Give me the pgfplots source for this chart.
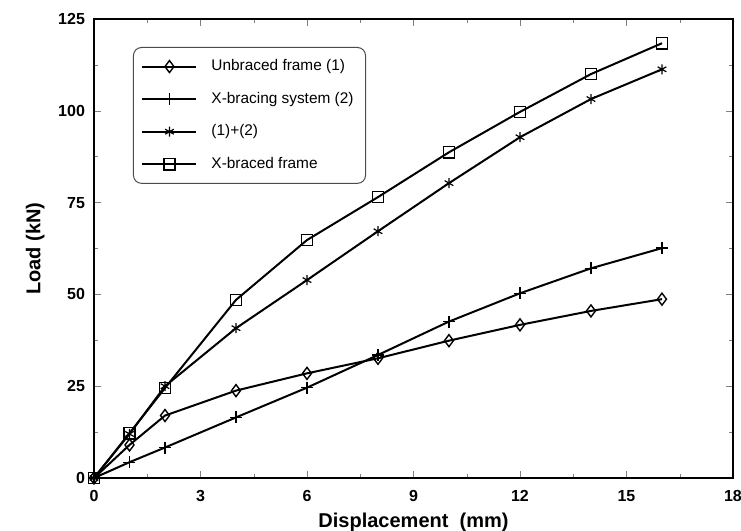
\documentclass[border=0pt]{standalone}
\usepackage{pgfplots}
\pgfplotsset{compat=1.18}
\usepackage{fontspec}
\setmainfont{Liberation Sans}
\begin{document}
\begin{tikzpicture}
\useasboundingbox (-47pt,-26.5pt) rectangle (323.5pt,239pt);
\begin{axis}[
  scale only axis,
  width=319.5pt, height=229.5pt,
  xmin=0, xmax=18, ymin=0, ymax=125,
  xtick={0,3,...,18}, ytick={0,25,...,125},
  minor x tick num=1, minor y tick num=1,
  tick align=inside,
  major tick length=3.5pt, minor tick length=2.2pt,
  axis line style={line width=0.8pt},
  /pgf/number format/assume math mode=true,
  tick label style={font=\fontsize{8}{9}\selectfont\bfseries},
  xticklabel style={yshift=-2.5pt},
  yticklabel style={xshift=-1pt},
  xlabel={Displacement\ \ (mm)},
  ylabel={Load (kN)},
  xlabel style={font=\fontsize{10}{11}\selectfont\bfseries, yshift=1pt},
  ylabel style={font=\fontsize{10}{11}\selectfont\bfseries, yshift=0pt},
  legend cell align=left,
  legend style={at={(axis description cs:0.061,0.939)}, anchor=north west,
    rounded corners=4pt, draw=black!70, line width=0.5pt,
    font=\fontsize{7.7}{8.5}\selectfont, row sep=5.2pt, inner xsep=4pt, inner ysep=4pt,
    /tikz/every odd column/.append style={column sep=5pt},
    /tikz/every even column/.append style={column sep=3pt}},
  legend image code/.code={\draw[mark repeat=2,mark phase=2] plot coordinates {(0pt,0pt)(13.5pt,0pt)(27pt,0pt)};},
]
\addplot[black, line width=1pt, mark=diamond, mark size=3pt, mark options={solid, line width=0.7pt, fill=white}] coordinates {
(0,0) (1,9.0) (2,17.0) (4,23.8) (6,28.5) (8,32.6) (10,37.4) (12,41.7) (14,45.5) (16,48.7)};
\addlegendentry{Unbraced frame (1)}
\addplot[black, line width=1pt, mark=+, mark size=3pt, mark options={solid, line width=0.7pt}] coordinates {
(0,0) (1,4.3) (2,8.3) (4,16.5) (6,24.6) (8,33.5) (10,42.6) (12,50.3) (14,57.1) (16,62.6)};
\addlegendentry{X-bracing system (2)}
\addplot[black, line width=1pt, mark=asterisk, mark size=2.5pt, mark options={solid, line width=0.6pt}] coordinates {
(0,0) (1,12.0) (2,25.0) (4,40.8) (6,53.9) (8,67.2) (10,80.3) (12,92.8) (14,103.2) (16,111.3)};
\addlegendentry{(1)+(2)}
\addplot[black, line width=1pt, mark=square, mark size=2.8pt, mark options={solid, line width=0.7pt, fill=white}] coordinates {
(0,0) (1,12.2) (2,24.5) (4,48.5) (6,64.8) (8,76.5) (10,88.7) (12,99.7) (14,110.0) (16,118.4)};
\addlegendentry{X-braced frame}
\end{axis}
\end{tikzpicture}
\end{document}
